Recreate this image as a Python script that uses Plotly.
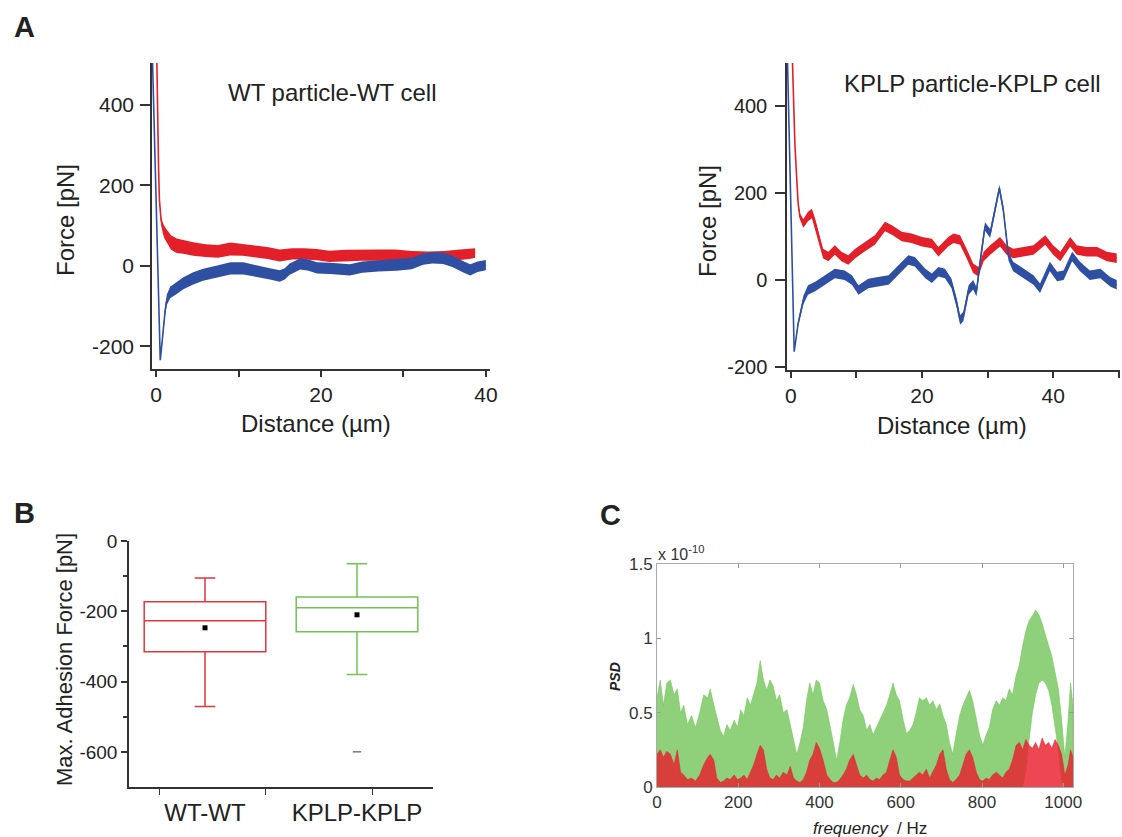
import plotly.graph_objects as go

W, H = 1122, 837
FONT = "Liberation Sans"

# ---------------- Panel A (left): WT particle - WT cell ----------------
wt_red_x = [0.08, 0.2, 0.3, 0.4, 0.6, 0.8, 1.0, 1.3, 1.8, 2.5, 3.3, 4.5, 6.0, 7.5, 9.0, 10.5, 12.0,
            13.5, 15.0, 16.5, 18.0, 19.5, 21.0, 23.0, 25.0, 27.0, 29.0, 31.0, 33.0, 35.0, 36.5, 38.0, 38.7]
wt_red_y = [520, 330, 240, 164, 114, 95, 84, 73, 58, 50, 47, 42, 38, 36, 42, 40, 36,
            32, 26, 30, 30, 28, 24, 26, 27, 27, 27, 24, 23, 24, 27, 30, 32]
wt_red_noise = [0, 0, 0, 3, 8, 13, 15, 17, 18, 18, 17, 17, 16, 16, 16, 15, 15,
                15, 15, 14, 14, 14, 14, 14, 14, 14, 14, 13, 13, 13, 13, 13, 12]

wt_blue_x = [-0.45, 0.5, 0.6, 0.75, 0.9, 1.1, 1.3, 1.7, 2.5, 3.3, 4.5, 5.7, 7.4, 9.0, 10.6, 12.2, 13.8,
             15.0, 15.6, 16.2, 17.5, 18.5, 19.5, 21.1, 22.5, 23.5, 25.0, 27.0, 29.2, 31.0, 32.4, 33.5,
             34.8, 36.0, 37.2, 38.1, 39.0, 40.0]
wt_blue_y = [520, -234, -215, -180, -151, -110, -84, -66, -55, -43, -31, -22, -14, -6, -6, -13, -20,
             -25, -20, -8, 5, 2, -5, -6, -8, -10, -3, 0, 2, 6, 17, 20,
             19, 11, -2, -10, -2, 2]
wt_blue_noise = [0, 0, 3, 6, 9, 11, 13, 14, 15, 15, 15, 15, 15, 15, 15, 14, 14,
                 14, 14, 14, 14, 14, 14, 14, 14, 14, 14, 14, 14, 14, 14, 14,
                 14, 14, 14, 14, 13, 13]

# ---------------- Panel A (right): KPLP particle - KPLP cell ----------------
kp_red_x = [0.2, 0.35, 0.6, 0.87, 1.1, 1.37, 1.9, 2.6, 3.2, 3.7, 4.2, 4.9, 5.7, 6.7, 7.7, 8.75, 9.8,
            11.3, 12.8, 14.35, 15.4, 16.9, 18.4, 20.0, 21.5, 22.5, 24.0, 24.8, 25.8, 26.8, 27.8, 28.6,
            29.4, 30.4, 31.9, 32.9, 33.9, 35.5, 37.0, 38.8, 40.0, 41.1, 42.6, 43.6, 45.1, 46.7, 48.2, 49.7]
kp_red_y = [520, 429, 314, 237, 176, 146, 130, 146, 153, 130, 100, 61, 54, 69, 54, 46, 61,
            77, 92, 123, 115, 100, 96, 88, 84, 65, 88, 96, 92, 61, 27, 19,
            54, 69, 88, 69, 61, 65, 69, 92, 69, 54, 88, 69, 65, 65, 54, 50]
kp_red_noise = [0, 0, 0, 2, 5, 7, 10, 11, 11, 11, 11, 11, 11, 11, 11, 11, 11,
                11, 11, 11, 11, 11, 11, 11, 11, 11, 11, 11, 11, 11, 11, 11,
                11, 11, 11, 11, 11, 11, 11, 11, 11, 11, 11, 11, 11, 11, 11, 11]

kp_blue_x = [-0.55, 0.5, 1.1, 1.9, 2.6, 3.7, 5.2, 6.7, 8.2, 9.3, 10.3, 11.8, 13.3, 14.9, 16.4, 17.9,
             18.9, 20.5, 21.5, 22.5, 23.5, 24.5, 25.3, 25.8, 26.3, 27.1, 27.8, 28.3, 28.9, 29.6, 30.4,
             31.1, 31.8, 32.4, 33.2, 33.9, 35.5, 37.0, 38.0, 39.5, 40.6, 41.6, 42.9, 44.1, 45.6, 47.2,
             48.7, 49.7]
kp_blue_y = [520, -165, -100, -46, -23, -15, 0, 15, 11, 0, -23, -8, -4, 0, 23, 46,
             42, 15, 4, 19, 15, -8, -54, -92, -84, -23, -11, -27, 46, 123, 107,
             161, 211, 161, 54, 31, 15, 0, -19, 31, 8, 11, 54, 31, 11, 15,
             -4, -11]
kp_blue_noise = [0, 0, 6, 10, 11, 11, 11, 11, 11, 11, 11, 11, 11, 11, 11, 11,
                 11, 11, 11, 11, 11, 11, 11, 11, 11, 11, 11, 11, 11, 10, 10,
                 9, 8, 9, 10, 11, 11, 11, 11, 11, 11, 11, 11, 11, 11, 11,
                 11, 11]

# ---------------- Panel B: box plot statistics ----------------
groups = ["WT-WT", "KPLP-KPLP"]
box_q1 = [-315, -258]
box_median = [-227, -190]
box_q3 = [-173, -159]
box_low = [-471, -380]
box_high = [-105, -65]
box_mean = [-247, -210]
box_outlier_group = [2]
box_outlier_val = [-600]

# ---------------- Panel C: PSD envelopes (units of 1e-10) ----------------
freq = [0, 8, 16, 24, 33, 42, 50, 58, 66, 75, 85, 95, 105, 115, 125, 131, 140, 147, 156, 164,
        172, 180, 190, 198, 206, 214, 222, 230, 238, 246, 254, 262, 270, 278, 286, 294, 302, 311,
        320, 328, 336, 344, 352, 360, 368, 376, 384, 392, 400, 409, 418, 426, 434, 442, 450, 458,
        466, 474, 483, 491, 499, 508, 516, 524, 532, 540, 548, 556, 565, 573, 581, 589, 597, 606,
        614, 622, 630, 638, 646, 654, 663, 671, 679, 688, 696, 704, 712, 720, 728, 736, 745, 753,
        761, 769, 777, 786, 794, 802, 810, 818, 826, 835, 843, 851, 859, 867, 875, 884, 892, 900,
        908, 916, 924, 932, 940, 948, 956, 964, 972, 980, 988, 996, 1004, 1012, 1018, 1024]
psd_green_hi = [0.60, 0.72, 0.55, 0.70, 0.72, 0.62, 0.66, 0.50, 0.55, 0.42, 0.48, 0.40, 0.50, 0.62, 0.60,
                0.66, 0.55, 0.48, 0.38, 0.34, 0.42, 0.38, 0.45, 0.40, 0.52, 0.48, 0.60, 0.55, 0.62, 0.70,
                0.85, 0.72, 0.65, 0.72, 0.68, 0.58, 0.62, 0.50, 0.52, 0.42, 0.30, 0.22, 0.30, 0.40, 0.58,
                0.70, 0.62, 0.72, 0.70, 0.58, 0.52, 0.42, 0.30, 0.18, 0.30, 0.45, 0.55, 0.60, 0.69, 0.62,
                0.52, 0.48, 0.38, 0.42, 0.35, 0.40, 0.45, 0.50, 0.55, 0.62, 0.70, 0.62, 0.58, 0.45, 0.36,
                0.38, 0.42, 0.50, 0.60, 0.58, 0.60, 0.55, 0.58, 0.52, 0.56, 0.48, 0.42, 0.30, 0.22, 0.35,
                0.48, 0.55, 0.60, 0.65, 0.58, 0.46, 0.35, 0.28, 0.35, 0.40, 0.52, 0.58, 0.55, 0.60, 0.58,
                0.66, 0.62, 0.75, 0.82, 0.95, 1.05, 1.12, 1.15, 1.19, 1.16, 1.10, 1.02, 0.95, 0.88, 0.78,
                0.66, 0.45, 0.20, 0.45, 0.70, 0.55]
psd_green_lo = [0, 0, 0, 0, 0, 0, 0, 0, 0, 0, 0, 0, 0, 0, 0, 0, 0, 0, 0, 0,
                0, 0, 0, 0, 0, 0, 0, 0, 0, 0, 0, 0, 0, 0, 0, 0, 0, 0, 0, 0,
                0, 0, 0, 0, 0, 0, 0, 0, 0, 0, 0, 0, 0, 0, 0, 0, 0, 0, 0, 0,
                0, 0, 0, 0, 0, 0, 0, 0, 0, 0, 0, 0, 0, 0, 0, 0, 0, 0, 0, 0,
                0, 0, 0, 0, 0, 0, 0, 0, 0, 0, 0, 0, 0, 0, 0, 0, 0, 0, 0, 0,
                0, 0, 0, 0, 0, 0, 0, 0, 0, 0, 0.12, 0.32, 0.50, 0.62, 0.70, 0.72, 0.70, 0.65, 0.55, 0.40,
                0.25, 0.05, 0, 0, 0, 0]
psd_red_hi = [0.22, 0.25, 0.20, 0.24, 0.22, 0.15, 0.25, 0.10, 0.08, 0.05, 0.06, 0.04, 0.08, 0.15, 0.20,
              0.22, 0.18, 0.06, 0.03, 0.04, 0.06, 0.05, 0.08, 0.05, 0.06, 0.08, 0.05, 0.10, 0.15, 0.22,
              0.28, 0.25, 0.12, 0.06, 0.05, 0.08, 0.06, 0.10, 0.08, 0.14, 0.06, 0.04, 0.03, 0.05, 0.10,
              0.18, 0.22, 0.30, 0.26, 0.18, 0.08, 0.05, 0.03, 0.03, 0.05, 0.08, 0.12, 0.18, 0.22, 0.15,
              0.08, 0.06, 0.08, 0.05, 0.04, 0.06, 0.05, 0.08, 0.10, 0.18, 0.25, 0.20, 0.08, 0.05, 0.04,
              0.04, 0.06, 0.08, 0.10, 0.08, 0.12, 0.06, 0.10, 0.15, 0.22, 0.25, 0.12, 0.05, 0.03, 0.05,
              0.08, 0.15, 0.22, 0.25, 0.20, 0.10, 0.05, 0.04, 0.06, 0.05, 0.08, 0.10, 0.08, 0.06, 0.10,
              0.12, 0.18, 0.28, 0.30, 0.25, 0.32, 0.28, 0.26, 0.30, 0.25, 0.33, 0.28, 0.30, 0.26, 0.32,
              0.28, 0.22, 0.08, 0.15, 0.25, 0.20]

RED = "#e3202a"
BLUE = "#2f4fa3"
BOX_RED = "#e0373c"
BOX_GREEN = "#74c255"
AX = "#333333"


def px(x):
    return x / W


def py(y):
    return 1 - y / H


fig = go.Figure()


def band(xs, ys, ns, color, xa, ya):
    up = [y + n for y, n in zip(ys, ns)]
    lo = [y - n for y, n in zip(ys, ns)]
    fig.add_trace(go.Scatter(x=xs + xs[::-1], y=up + lo[::-1], fill="toself", fillcolor=color,
                             line=dict(width=0), mode="lines", hoverinfo="skip", showlegend=False,
                             xaxis=xa, yaxis=ya))
    fig.add_trace(go.Scatter(x=xs, y=ys, mode="lines", line=dict(color=color, width=1.6),
                             showlegend=False, xaxis=xa, yaxis=ya))


band(wt_red_x, wt_red_y, wt_red_noise, RED, "x", "y")
band(wt_blue_x, wt_blue_y, wt_blue_noise, BLUE, "x", "y")
band(kp_red_x, kp_red_y, kp_red_noise, RED, "x2", "y2")
band(kp_blue_x, kp_blue_y, kp_blue_noise, BLUE, "x2", "y2")

# Panel B boxes
for i, col in enumerate([BOX_RED, BOX_GREEN]):
    fig.add_trace(go.Box(x=[i + 1], q1=[box_q1[i]], median=[box_median[i]], q3=[box_q3[i]],
                         lowerfence=[box_low[i]], upperfence=[box_high[i]], width=0.8,
                         whiskerwidth=0.17, line=dict(color=col, width=1.5),
                         fillcolor="rgba(0,0,0,0)", boxpoints=False, name=groups[i],
                         showlegend=False, xaxis="x3", yaxis="y3"))
fig.add_trace(go.Scatter(x=[1, 2], y=box_mean, mode="markers",
                         marker=dict(symbol="square", size=5, color="black"),
                         showlegend=False, xaxis="x3", yaxis="y3"))
fig.add_trace(go.Scatter(x=box_outlier_group, y=box_outlier_val, mode="markers",
                         marker=dict(symbol="line-ew", size=6, line=dict(width=1.2, color="#555555")),
                         showlegend=False, xaxis="x3", yaxis="y3"))

# Panel C PSD
fig.add_trace(go.Scatter(x=freq + freq[::-1], y=psd_green_hi + psd_green_lo[::-1], fill="toself",
                         fillcolor="rgba(112,196,84,0.78)", line=dict(width=0.6, color="rgba(112,196,84,0.9)"),
                         mode="lines", showlegend=False, xaxis="x4", yaxis="y4"))
fig.add_trace(go.Scatter(x=freq, y=psd_red_hi, fill="tozeroy",
                         fillcolor="rgba(232,30,45,0.82)", line=dict(width=0.6, color="rgba(232,30,45,0.85)"),
                         mode="lines", showlegend=False, xaxis="x4", yaxis="y4"))

tickfontA = dict(family=FONT, size=21, color="#222")
common = dict(showgrid=False, zeroline=False, showline=True, linecolor=AX, linewidth=1.5,
              tickcolor=AX, tickwidth=1.5, automargin=False)
yA_vals = [-200, 0, 200, 400]
yA_text = ["-200", "0", "200", "400"]
yB_vals = [0, -200, -400, -600]
yB_text = ["0", "-200", "-400", "-600"]

fig.update_layout(
    width=W, height=H, autosize=False, margin=dict(l=0, r=0, t=0, b=0, pad=0, autoexpand=False),
    paper_bgcolor="white", plot_bgcolor="white", showlegend=False,
    xaxis=dict(domain=[px(152), px(490)], range=[-0.5, 40.5], anchor="y", tickvals=[0, 20, 40],
               ticks="outside", ticklen=6, tickfont=tickfontA,
               minor=dict(tickvals=[10, 30], ticks="outside", ticklen=6, tickcolor=AX), **common),
    yaxis=dict(domain=[py(369), py(63)], range=[-256, 504], anchor="x", tickvals=yA_vals, ticktext=yA_text,
               ticks="outside", ticklen=10, tickfont=tickfontA, ticklabelstandoff=2, **common),
    xaxis2=dict(domain=[px(787), px(1120)], range=[-0.6, 50.2], anchor="y2", tickvals=[0, 20, 40],
                ticks="outside", ticklen=6, tickfont=tickfontA,
                minor=dict(tickvals=[10, 30, 50], ticks="outside", ticklen=6, tickcolor=AX), **common),
    yaxis2=dict(domain=[py(370), py(63)], range=[-207, 499], anchor="x2", tickvals=yA_vals, ticktext=yA_text,
                ticks="outside", ticklen=10, tickfont=dict(family=FONT, size=20, color="#222"),
                ticklabelstandoff=4, **common),
    xaxis3=dict(domain=[px(129), px(433)], range=[0.5, 2.5], anchor="y3", tickvals=[1, 2],
                ticktext=groups, ticks="", tickfont=dict(family=FONT, size=24, color="#222"),
                ticklabelstandoff=3,
                minor=dict(tickvals=[0.7, 1.4, 2.1], ticks="outside", ticklen=6, tickcolor=AX), **common),
    yaxis3=dict(domain=[py(787), py(541)], range=[-700, 0], anchor="x3", tickvals=yB_vals, ticktext=yB_text,
                ticks="outside", ticklen=6, tickfont=dict(family=FONT, size=19, color="#222"),
                ticklabelstandoff=0,
                minor=dict(tickvals=[-100, -300, -500], ticks="outside", ticklen=4, tickcolor=AX), **common),
    xaxis4=dict(domain=[px(657), px(1073)], range=[0, 1024], anchor="y4", automargin=False,
                tickvals=[0, 200, 400, 600, 800, 1000], ticks="inside", ticklen=4,
                tickcolor="#999", showline=True, linecolor="#aaaaaa", linewidth=1, mirror="ticks",
                showgrid=False, zeroline=False, tickfont=dict(family=FONT, size=17, color="#333")),
    yaxis4=dict(domain=[py(787), py(564)], range=[0, 1.5], anchor="x4", automargin=False,
                tickvals=[0, 0.5, 1, 1.5], ticktext=["0", "0.5", "1", "1.5"], ticks="inside", ticklen=4,
                tickcolor="#999", showline=True, linecolor="#aaaaaa", linewidth=1, mirror="ticks",
                showgrid=False, zeroline=False, tickfont=dict(family=FONT, size=17, color="#333")),
)


def ann(x, y, text, size, angle=0, xanchor="center", yanchor="middle", color="#222"):
    fig.add_annotation(x=px(x), y=py(y), xref="paper", yref="paper", text=text, showarrow=False,
                       textangle=angle, xanchor=xanchor, yanchor=yanchor,
                       font=dict(family=FONT, size=size, color=color))


ann(24, 27, "<b>A</b>", 29)
ann(24, 513, "<b>B</b>", 29)
ann(610, 515, "<b>C</b>", 29)
ann(332, 92, "WT particle-WT cell", 24)
ann(972, 83, "KPLP particle-KPLP cell", 24)
ann(66, 220, "Force [pN]", 24, angle=-90)
ann(707, 221, "Force [pN]", 24, angle=-90)
ann(316, 423, "Distance (µm)", 24)
ann(952, 425, "Distance (µm)", 24)
ann(64, 660, "Max. Adhesion Force [pN]", 22, angle=-90)
ann(615, 677, "<b><i>PSD</i></b>", 14, angle=-90)
ann(870, 828, "<i>frequency</i>  / Hz", 17)
ann(656, 553, "x 10<sup>-10</sup>", 16, xanchor="left", color="#333")

fig.write_html("out.html", config={"displayModeBar": False},
               post_script="document.body.style.margin='0px';document.body.style.overflow='hidden';")
